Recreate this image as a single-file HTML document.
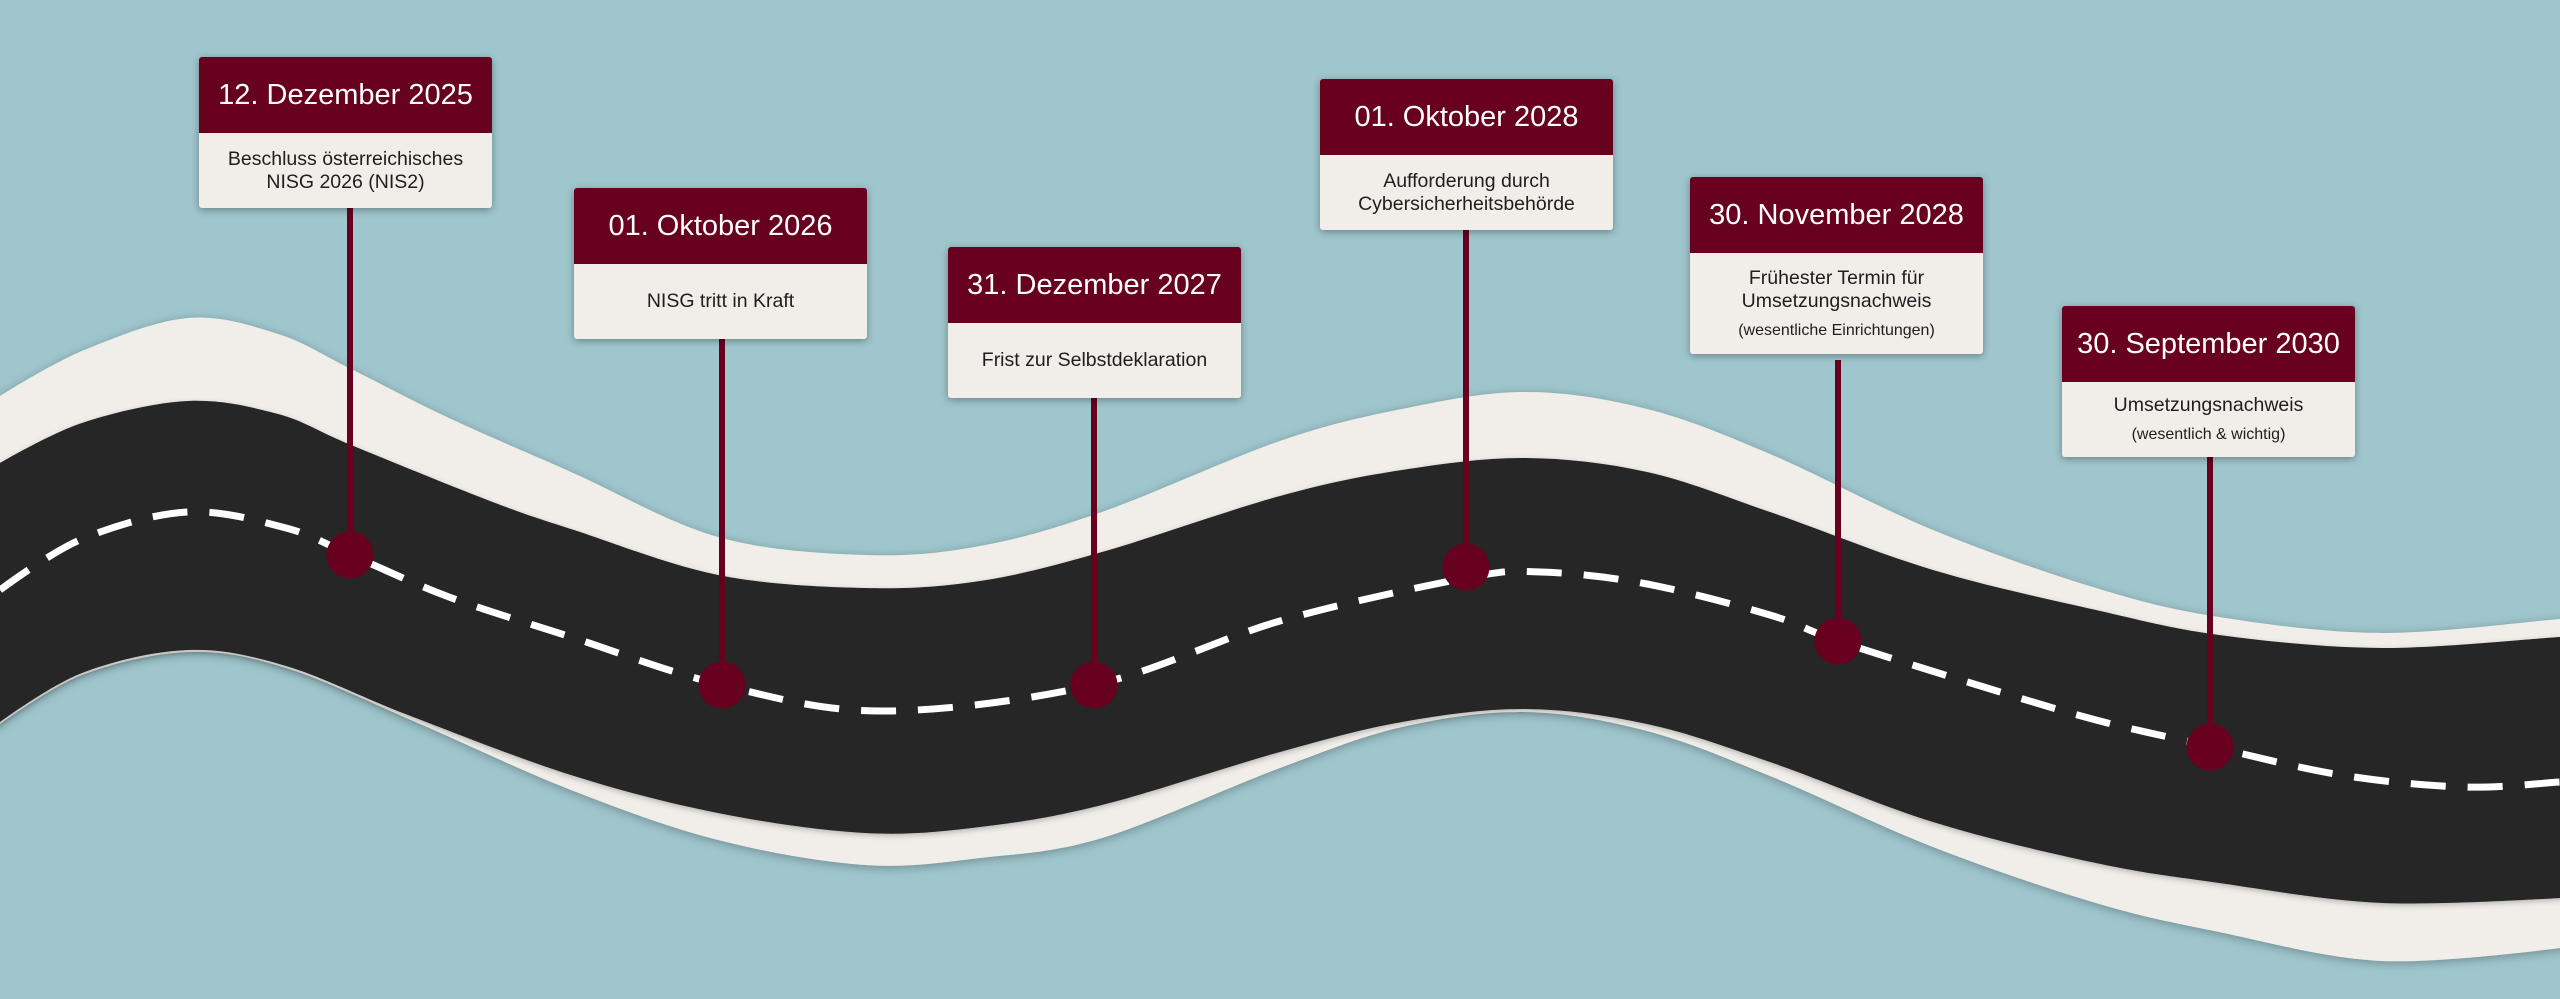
<!DOCTYPE html>
<html>
<head>
<meta charset="utf-8">
<style>
  html,body{margin:0;padding:0;}
  body{width:2560px;height:999px;overflow:hidden;background:#9fc6cd;position:relative;font-family:"Liberation Sans",Arial,sans-serif;}
  svg{position:absolute;left:0;top:0;}
  .card{position:absolute;width:293px;border-radius:3px;overflow:hidden;box-shadow:0 2px 8px rgba(0,0,0,0.35);}
  .hd{height:76px;background:#68001f;color:#ffffff;font-size:29px;display:flex;align-items:center;justify-content:center;white-space:nowrap;}
  .bd{height:75px;background:#f1eeea;color:#1e1e1e;font-size:19.5px;line-height:23px;display:flex;flex-direction:column;align-items:center;justify-content:center;text-align:center;white-space:nowrap;}
  .sm{font-size:16px;line-height:20px;margin-top:8px;}
</style>
</head>
<body>
<svg width="2560" height="999" viewBox="0 0 2560 999" xmlns="http://www.w3.org/2000/svg">
  <defs>
    <filter id="sh" x="-5%" y="-30%" width="110%" height="160%">
      <feDropShadow dx="0" dy="2" stdDeviation="5" flood-color="#000" flood-opacity="0.3"/>
    </filter>
    <filter id="sh2" x="-5%" y="-30%" width="110%" height="160%">
      <feDropShadow dx="0" dy="2" stdDeviation="3" flood-color="#000" flood-opacity="0.25"/>
    </filter>
  </defs>
  <!-- white band -->
  <path filter="url(#sh)" fill="#f1eeea" d="M -10 402 L 0 396 S 50.7 364 82 351 S 155.3 320.8 188 318 S 250.8 325.5 278 334 S 322.5 355 351 369 S 412.3 400.8 449 418 S 526.2 452.2 571 472 S 669 523.2 718 537 S 821.3 553.5 865 555 S 940.5 553.2 980 546 S 1052 529.5 1102 512 S 1230 458.2 1280 441 S 1361.2 417.2 1402 409 S 1484.2 392 1525 392 S 1606.2 398.7 1647 409 S 1722.3 433.8 1770 454 S 1878.7 507.7 1933 530 S 2048.3 573.5 2096 588 S 2171.3 609.5 2219 617 S 2325.2 632.7 2382 633 S 2530.3 621.3 2560 619 L 2580 618 L 2580 947 L 2560 948 S 2438.8 963.7 2382 961 S 2266.7 941.7 2219 932 S 2143.7 917.2 2096 903 S 1987.3 868.2 1933 847 S 1817.7 795.3 1770 776 S 1687.8 741.7 1647 731 S 1565.8 712.7 1525 712 S 1442.8 717.7 1402 727 S 1330 749.5 1280 768 S 1152 823 1102 838 S 1019.5 853.5 980 858 S 908.7 868 865 865 S 767 852.5 718 840 S 620.7 809.3 571 790 S 467.5 744.3 420 724 S 324.7 680 286 668 S 222 650.8 188 652 S 113.3 663 82 675 S 0 724 0 724 L -10 730 Z"/>
  <!-- dark road -->
  <path filter="url(#sh2)" fill="#262626" d="M -10 469 L 0 463 S 50.7 433.3 82 423 S 155.3 402.5 188 401 S 250.8 406.7 278 414 S 315.7 430.5 351 445 S 452.8 486.8 490 501 S 536 517.7 574 530 S 669.5 565.3 718 575 S 821.3 587 865 588 S 940.5 587 980 581 S 1052 566.2 1102 552 S 1230 509.7 1280 496 S 1361.2 476.3 1402 470 S 1484.2 457.7 1525 458 S 1606.2 463 1647 472 S 1722.3 495.7 1770 512 S 1878.7 553.7 1933 570 S 2048.3 599.2 2096 610 S 2171.3 628.7 2219 635 S 2325.2 647.7 2382 648 S 2530.3 638.8 2560 637 L 2580 636 L 2580 897 L 2560 898 S 2438.8 905.5 2382 903 S 2266.7 889.7 2219 883 S 2143.7 873.2 2096 863 S 1987.3 838.8 1933 822 S 1817.7 778.3 1770 762 S 1687.8 732.8 1647 724 S 1565.8 709.3 1525 709 S 1442.8 714.8 1402 722 S 1330 738.2 1280 752 S 1152 792.5 1102 805 S 1019.5 822.3 980 827 S 908.7 835.3 865 833 S 767 822.7 718 813 S 622.7 791.3 571 775 S 455.5 733.2 408 715 S 322.7 676.8 286 666 S 222 648.8 188 650 S 113.3 661 82 673 S 0 722 0 722 L -10 728 Z"/>
  <!-- center dashed line -->
  <path fill="none" stroke="#ffffff" stroke-width="7" stroke-dasharray="35 22"
    d="M 0 590 S 50.7 552 82 539 S 154 513.8 188 512 S 258.8 520.8 286 528 S 323.8 543.5 351 555 S 412.3 583.3 449 597 S 525.5 622.3 571 637 S 670.2 672.7 722 685 S 820 711 882 711 S 1027.7 700 1094 685 S 1218 638.8 1280 621 S 1422.5 586.2 1466 578 S 1510.8 571 1541 572 S 1608.8 576.8 1647 584 S 1738.2 605.5 1770 615 S 1804 629.5 1838 641 S 1931 670.8 1974 684 S 2056.8 709.7 2096 720 S 2168.2 736.8 2209 746 S 2298.5 768.2 2341 775 S 2427.5 785.8 2464 787 S 2544 782.8 2560 782"/>
  <!-- poles -->
  <g fill="#68001f">
    <rect x="347" y="206" width="6" height="349"/>
    <rect x="719" y="336" width="6" height="349"/>
    <rect x="1091" y="396" width="6" height="289"/>
    <rect x="1463" y="228" width="6" height="339"/>
    <rect x="1835" y="360" width="6" height="281"/>
    <rect x="2207" y="455" width="6" height="292"/>
  </g>
  <!-- dots -->
  <g fill="#68001f">
    <circle cx="350" cy="555" r="23.5"/>
    <circle cx="722" cy="685" r="23.5"/>
    <circle cx="1094" cy="685" r="23.5"/>
    <circle cx="1466" cy="567" r="23.5"/>
    <circle cx="1838" cy="641" r="23.5"/>
    <circle cx="2210" cy="747" r="23.5"/>
  </g>
</svg>

<div class="card" style="left:199px;top:57px;">
  <div class="hd">12. Dezember 2025</div>
  <div class="bd"><div>Beschluss österreichisches</div><div>NISG 2026 (NIS2)</div></div>
</div>

<div class="card" style="left:574px;top:188px;">
  <div class="hd">01. Oktober 2026</div>
  <div class="bd"><div>NISG tritt in Kraft</div></div>
</div>

<div class="card" style="left:948px;top:247px;">
  <div class="hd">31. Dezember 2027</div>
  <div class="bd"><div>Frist zur Selbstdeklaration</div></div>
</div>

<div class="card" style="left:1320px;top:79px;">
  <div class="hd">01. Oktober 2028</div>
  <div class="bd"><div>Aufforderung durch</div><div>Cybersicherheitsbehörde</div></div>
</div>

<div class="card" style="left:1690px;top:177px;">
  <div class="hd">30. November 2028</div>
  <div class="bd" style="height:101px;"><div>Frühester Termin für</div><div>Umsetzungsnachweis</div><div class="sm">(wesentliche Einrichtungen)</div></div>
</div>

<div class="card" style="left:2062px;top:306px;">
  <div class="hd">30. September 2030</div>
  <div class="bd"><div>Umsetzungsnachweis</div><div class="sm">(wesentlich &amp; wichtig)</div></div>
</div>
</body>
</html>
